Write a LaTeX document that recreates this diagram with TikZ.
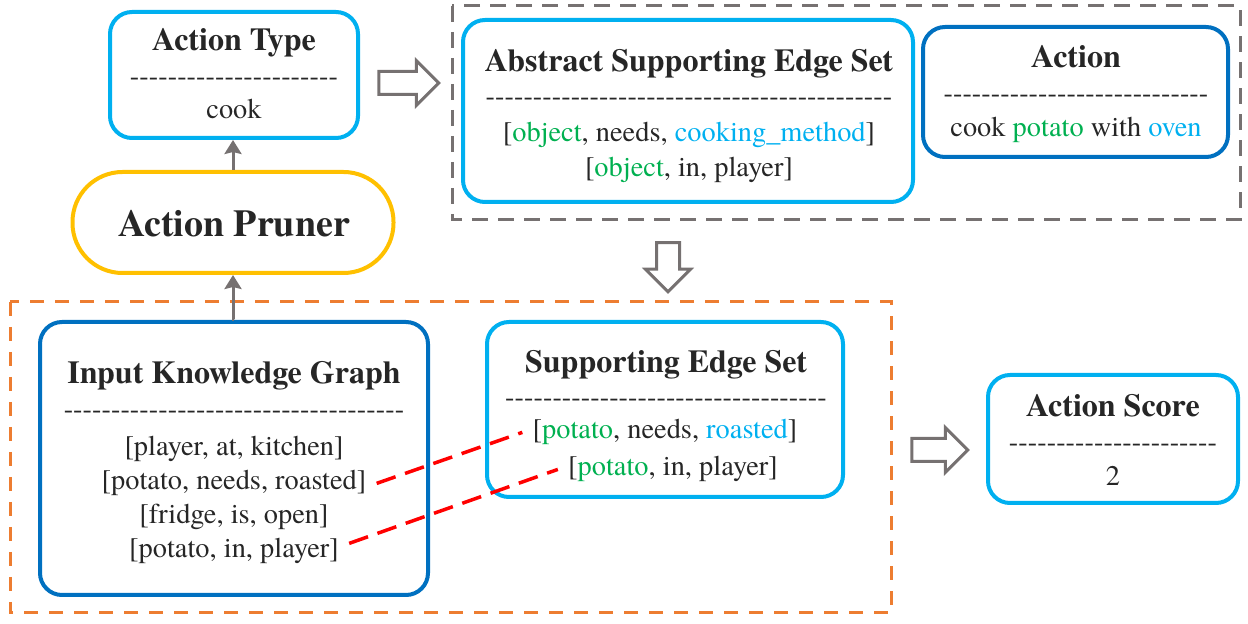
\documentclass[tikz,border=0pt]{standalone}
\usepackage{fontspec}
\setmainfont{TeX Gyre Termes}
\usepackage{xcolor}
\usetikzlibrary{
    arrows.meta,
    shapes.arrows,
    positioning
}
\definecolor{skyblue}{HTML}{00B0F0}
\definecolor{deepblue}{HTML}{0070C0}
\definecolor{prunergold}{HTML}{FFC000}
\definecolor{leafgreen}{HTML}{00B050}
\definecolor{framegray}{HTML}{767171}
\definecolor{frameorange}{HTML}{ED7D31}
\definecolor{ink}{HTML}{262626}
\newcommand{\textgreen}[1]{\textcolor{leafgreen}{#1}}
\newcommand{\textsky}[1]{\textcolor{skyblue}{#1}}
\newcommand{\dashrow}[1]{\foreach \i in {1,...,#1}{\hbox{-}}}

\begin{document}
\begin{tikzpicture}[x=0.5pt, y=-0.5pt,
    box/.style={draw=#1, line width=2pt, rounded corners=11pt, inner sep=0pt},
    title/.style={font=\fontsize{16}{18}\selectfont\bfseries, text=ink, anchor=base, inner sep=2pt},
    entry/.style={font=\fontsize{14.2}{17}\selectfont, text=ink, anchor=base, inner sep=2pt},
    hollow/.style={single arrow, draw=framegray, fill=white, line width=1.5pt, inner sep=5pt,
        single arrow head extend=5.5pt, minimum height=#1},
    link/.style={-{Stealth[length=7pt, width=8.5pt, inset=1pt]}, draw=framegray, line width=1.5pt},
    match/.style={draw=red, line width=1.75pt, dash pattern=on 10pt off 5pt}]
    \useasboundingbox (0, 0) rectangle (1248, 624);

    % groups
    \draw[framegray, line width=1.5pt, dash pattern=on 8pt off 5pt] (452, 6) rectangle (1240, 220);
    \draw[frameorange, line width=1.5pt, dash pattern=on 7pt off 5.5pt] (10, 302) rectangle (891, 613);

    % action type
    \node[box=skyblue, minimum width=124pt, minimum height=63pt] (type) at (234, 75) {};
    \node[title] (typet) at (234, 51) {Action Type};
    \node[entry] (typed) at (234, 86) {\dashrow{22}};
    \node[entry] (typev) at (234, 119) {cook};

    % pruner
    \node[draw=prunergold, line width=2pt, rounded corners=25pt, minimum width=160.5pt,
        minimum height=50.5pt, inner sep=0pt] (prune) at (233, 222.5) {};
    \node[font=\fontsize{19}{22}\selectfont\bfseries, text=ink, anchor=base] (prunet) at (234, 237) {Action Pruner};

    % abstract supporting edge set
    \node[box=skyblue, minimum width=225pt, minimum height=91pt] (abs) at (688, 111) {};
    \node[title] (abst) at (689, 72) {Abstract Supporting Edge Set};
    \node[entry] (absd) at (689, 106) {\dashrow{43}};
    \node[entry] (abs1) at (689, 142) {[\textgreen{object}, needs, \textsky{cooking\_method}]};
    \node[entry] (abs2) at (689, 177) {[\textgreen{object}, in, player]};

    % action
    \node[box=deepblue, minimum width=152.5pt, minimum height=65pt] (act) at (1075.5, 92) {};
    \node[title] (actt) at (1076, 68) {Action};
    \node[entry] (actd) at (1076, 103) {\dashrow{28}};
    \node[entry] (actv) at (1076, 137) {cook \textgreen{potato} with \textsky{oven}};

    % input knowledge graph
    \node[box=deepblue, minimum width=194pt, minimum height=136.5pt] (kg) at (234, 458.5) {};
    \node[title] (kgt) at (234, 384) {Input Knowledge Graph};
    \node[entry] (kgd) at (234, 419) {\dashrow{36}};
    \node[entry] (kg1) at (234, 456) {[player, at, kitchen]};
    \node[entry] (kg2) at (234, 490) {[potato, needs, roasted]};
    \node[entry] (kg3) at (234, 524) {[fridge, is, open]};
    \node[entry] (kg4) at (234, 558) {[potato, in, player]};

    % supporting edge set
    \node[box=skyblue, minimum width=178pt, minimum height=87.5pt] (sup) at (665, 409.5) {};
    \node[title] (supt) at (666, 373) {Supporting Edge Set};
    \node[entry] (supd) at (666, 407) {\dashrow{34}};
    \node[entry] (sup1) at (665, 439) {[\textgreen{potato}, needs, \textsky{roasted}]};
    \node[entry] (sup2) at (673, 476) {[\textgreen{potato}, in, player]};

    % action score
    \node[box=skyblue, minimum width=125pt, minimum height=64pt] (score) at (1113, 439) {};
    \node[title] (scoret) at (1113, 417) {Action Score};
    \node[entry] (scored) at (1113, 452) {\dashrow{22}};
    \node[entry] (scorev) at (1113, 486) {2};

    % block arrows
    \node[hollow=30pt] (toabs) at (403, 83) {};
    \node[hollow=24.5pt, rotate=-90] (tosup) at (668, 261.5) {};
    \node[hollow=28pt] (toscore) at (934, 450) {};

    \draw[link] (prune.north) -- (prune.north |- type.south);
    \draw[link] (kg.north) -- (kg.north -| prune.south) -- (prune.south);

    \draw[match] (kg2.east) ++(6, 0) -- ([xshift=-3pt]sup1.west);
    \draw[match] (kg4.east) ++(6, -8) -- ([xshift=-3pt]sup2.west);
\end{tikzpicture}
\end{document}
